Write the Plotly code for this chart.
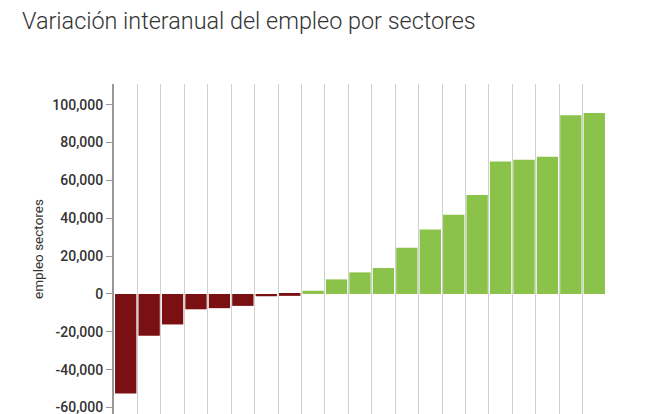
import plotly.graph_objects as go

# sectores (las etiquetas del eje x quedan fuera del recorte visible)
sectores = [
    "S01", "S02", "S03", "S04", "S05", "S06", "S07", "S08", "S09", "S10", "S11",
    "S12", "S13", "S14", "S15", "S16", "S17", "S18", "S19", "S20", "S21",
]
variacion = [
    -52600, -22100, -16100, -8100, -7500, -6300, -1200, -1000,
    1700, 7700, 11400, 13700, 24400, 34000, 41900, 52300,
    70000, 70900, 72500, 94400, 95600,
]
ytick_vals = [-60000, -40000, -20000, 0, 20000, 40000, 60000, 80000, 100000]
ytick_text = [f"{v:,}" for v in ytick_vals]

ROJO = "#7b1013"
VERDE = "#8bc34a"
Y_RANGE = [-63400, 110900]

colores = [ROJO if v < 0 else VERDE for v in variacion]

fig = go.Figure()
fig.add_trace(go.Bar(
    x=sectores,
    y=variacion,
    marker=dict(color=colores, line=dict(width=0)),
    hovertemplate="%{x}: %{y:,}<extra></extra>",
))

# la página añade 8px de margen al body, así que todo va desplazado 8px
fig.update_layout(
    width=664,
    height=414,
    margin=dict(l=106, r=66, t=76, b=8),
    paper_bgcolor="white",
    plot_bgcolor="white",
    font=dict(family="Roboto", color="#333333"),
    showlegend=False,
    bargap=0.09,
    title=dict(
        text="Variación interanual del empleo por sectores",
        font=dict(family="Roboto", size=23.4, color="#333333", weight=300),
        x=14 / 664, xanchor="left", xref="container",
        y=1 - 13 / 414, yanchor="middle", yref="container",
    ),
    xaxis=dict(
        type="category",
        tickson="boundaries",
        showticklabels=False,
        ticks="",
        showgrid=True,
        gridcolor="#cfcfcf",
        gridwidth=1,
        showline=False,
        zeroline=False,
    ),
    yaxis=dict(
        range=Y_RANGE,
        tickvals=ytick_vals,
        ticktext=ytick_text,
        tickfont=dict(size=14, color="#333333", weight=500),
        ticks="outside",
        ticklen=6,
        tickcolor="#999999",
        showline=True,
        linecolor="#999999",
        linewidth=2,
        showgrid=False,
        zeroline=False,
        title=dict(text="empleo sectores", font=dict(size=13.5, color="#333333"), standoff=6),
    ),
    # rejilla horizontal cada 50.000, independiente de las marcas del eje
    yaxis2=dict(
        range=Y_RANGE,
        overlaying="y",
        side="left",
        tick0=0,
        dtick=50000,
        showgrid=True,
        gridcolor="#cfcfcf",
        gridwidth=1,
        showticklabels=False,
        ticks="",
        zeroline=False,
        showline=False,
    ),
)

fig.write_html("out.html")
